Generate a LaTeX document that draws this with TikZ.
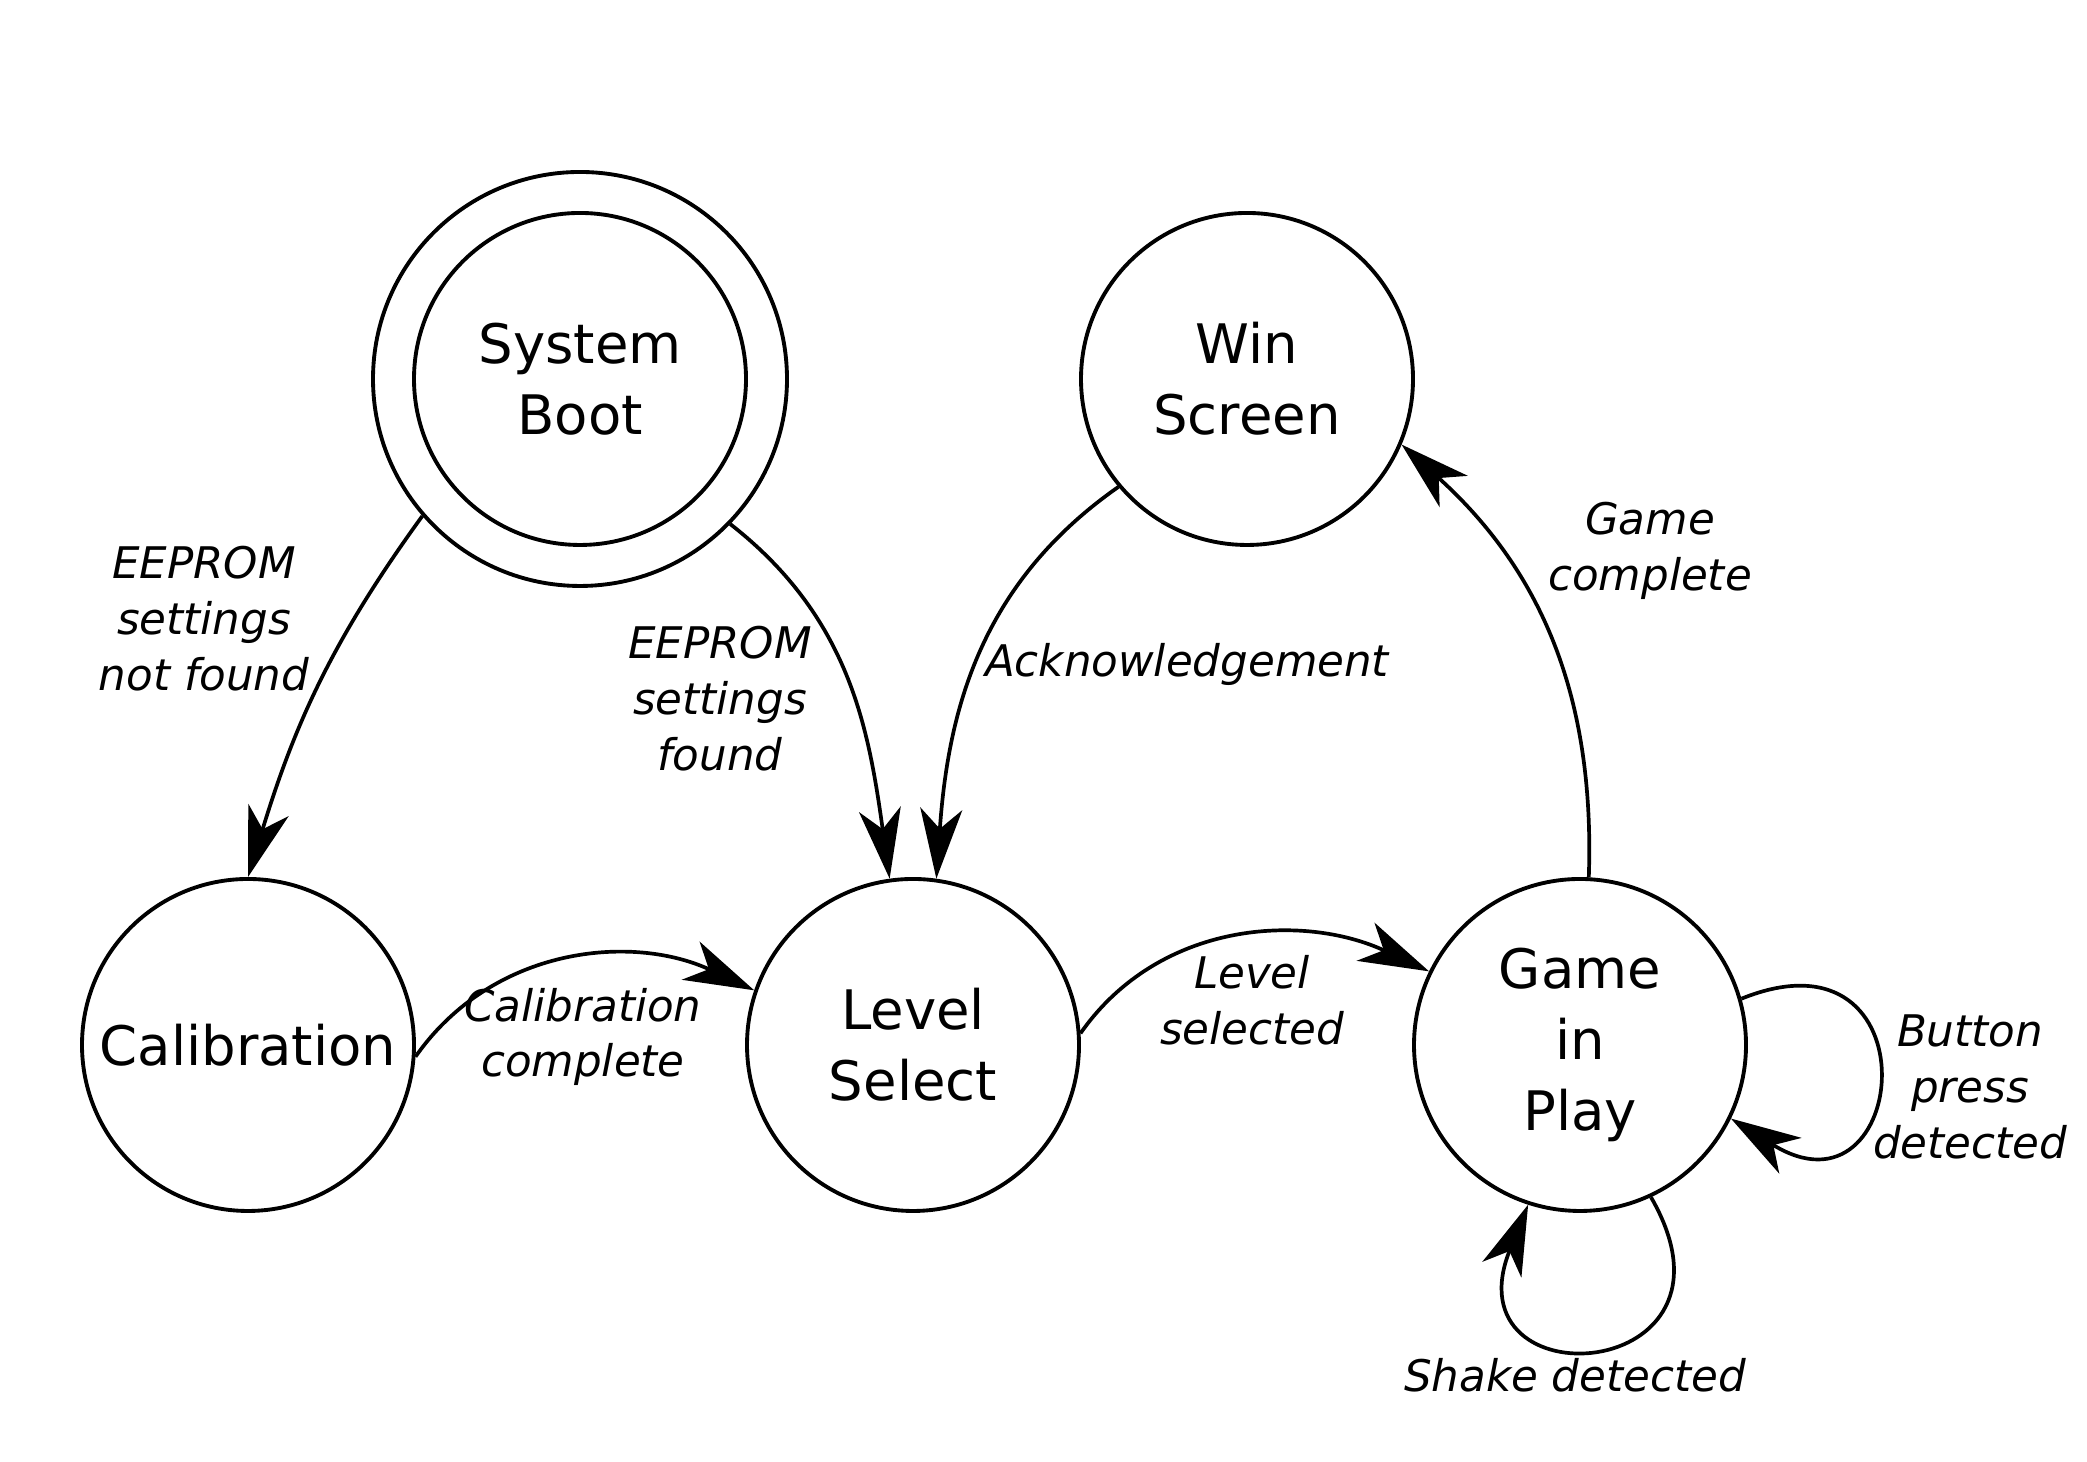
\documentclass[tikz,border=0pt]{standalone}
\usepackage{fontspec}
\setmainfont{DejaVu Sans}
\usetikzlibrary{arrows.meta,positioning}

\begin{document}
\begin{tikzpicture}[
    x=1cm,y=1cm,
    state/.style={draw, circle, line width=1.1pt, align=center,
      font=\fontsize{15.5}{20.3}\selectfont, minimum size=3.32cm, inner sep=0pt},
    ring/.style={draw, circle, line width=1.1pt, minimum size=4.14cm, inner sep=0pt},
    cond/.style={align=center, font=\fontsize{12.4}{15.9}\selectfont\itshape, inner sep=1pt},
    edge/.style={-{Stealth[length=0.7cm, width=0.42cm, inset=0.2cm]}, line width=1.05pt}
  ]
    \useasboundingbox (0,0) rectangle (20.87,14.62);

    % states
    \node[state] (boot) at (5.80,10.83) {System\\Boot};
    \node[ring] (bootring) at (boot) {};
    \node[state] (win) at (12.47,10.83) {Win\\Screen};
    \node[state] (calib) at (2.48,4.17) {Calibration};
    \node[state] (level) at (9.13,4.17) {Level\\Select};
    \node[state] (game) at (15.80,4.17) {Game\\in\\Play};

    % transition conditions
    \node[cond] (notfound) at (2.04,8.43) {EEPROM\\settings\\not found};
    \node[cond] (found) at (7.20,7.63) {EEPROM\\settings\\found};
    \node[cond] (ack) at (11.87,7.97) {Acknowledgement};
    \node[cond] (gamedone) at (16.50,9.11) {Game\\complete};
    \node[cond] (calibdone) at (5.83,4.25) {Calibration\\complete};
    \node[cond] (levelsel) at (12.52,4.62) {Level\\selected};
    \node[cond] (button) at (19.70,3.75) {Button\\press\\detected};
    \node[cond] (shake) at (15.75,0.87) {Shake detected};

    \draw[edge] (bootring.221) to[out=234, in=73] (calib.north);
    \draw[edge] (bootring.316) to[out=-38, in=98] (level.98);
    \draw[edge] (win.220) to[out=215, in=86] (level.82);
    \draw[edge] (game.87) to[out=88, in=-42] (win.-23);
    \draw[edge] (calib.-4) to[out=55, in=155] (level.161);
    \draw[edge] (level.4) to[out=55, in=155] (game.154);
    \draw[edge] (game.16) to[out=22, in=-32, looseness=4.5] (game.-26);
    \draw[edge] (game.-65) to[out=-60, in=-112, looseness=4.5] (game.-108);
  \end{tikzpicture}
\end{document}
